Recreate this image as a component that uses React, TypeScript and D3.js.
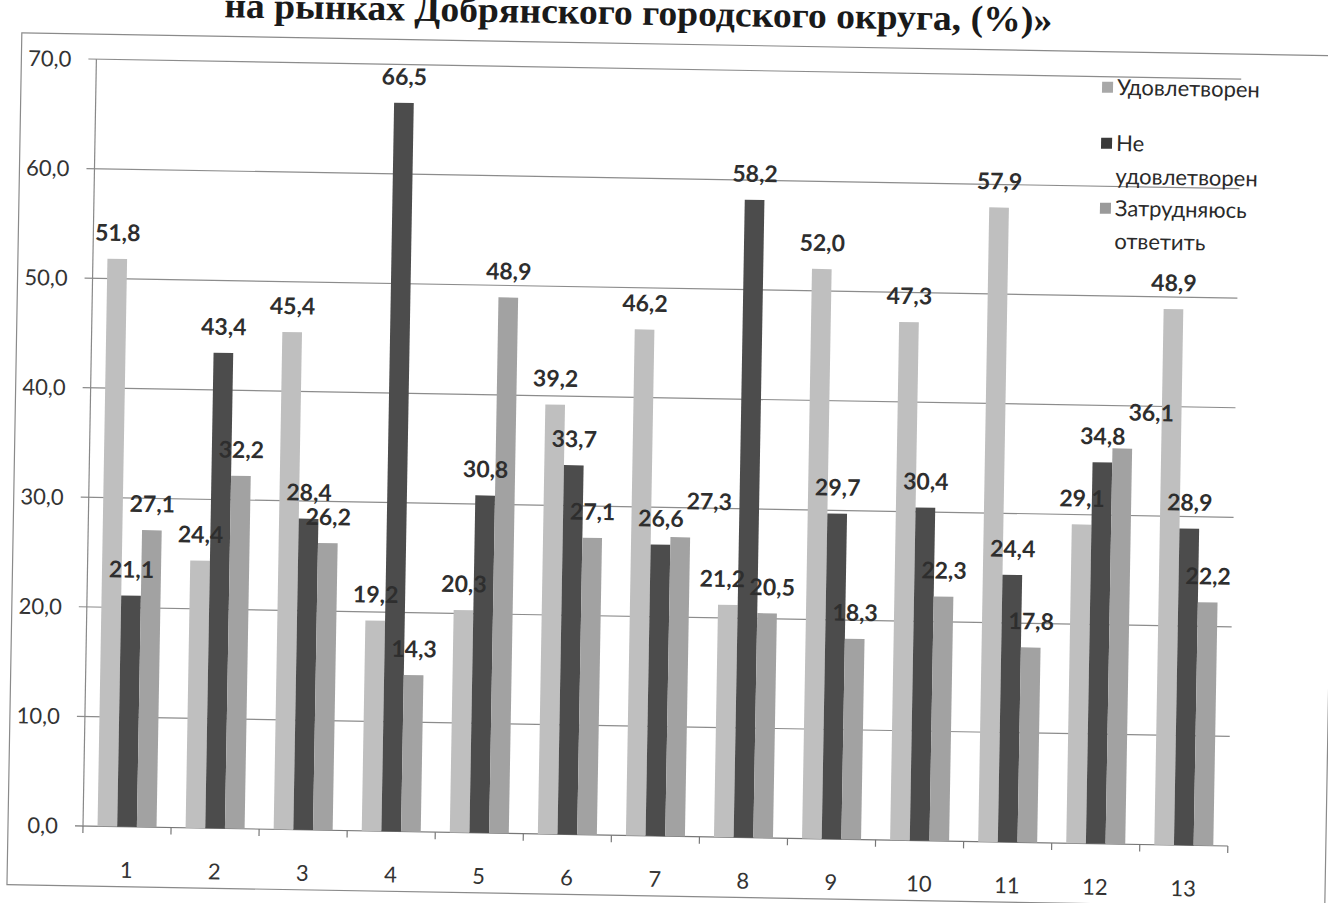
import React from 'react';
import * as d3 from 'd3';

const categories = ['1', '2', '3', '4', '5', '6', '7', '8', '9', '10', '11', '12', '13'];
const satisfied = [51.8, 24.4, 45.4, 19.2, 20.3, 39.2, 46.2, 21.2, 52.0, 47.3, 57.9, 29.1, 48.9];
const notSatisfied = [21.1, 43.4, 28.4, 66.5, 30.8, 33.7, 26.6, 58.2, 29.7, 30.4, 24.4, 34.8, 28.9];
const hardToSay = [27.1, 32.2, 26.2, 14.3, 48.9, 27.1, 27.3, 20.5, 18.3, 22.3, 17.8, 36.1, 22.2];
const seriesNames = ['Удовлетворен', 'Не удовлетворен', 'Затрудняюсь ответить'];
const legendLines = [['Удовлетворен'], ['Не', 'удовлетворен'], ['Затрудняюсь', 'ответить']];
const yTicks = [0, 10, 20, 30, 40, 50, 60, 70];
const titleText = 'на рынках Добрянского городского округа, (%)»';

const barColors = ['#bfbfbf', '#4c4c4c', '#a2a2a2'];
const legendColors = ['#a8a8a8', '#3a3a3a', '#9a9a9a'];

const W = 1328;
const H = 903;
const left = 83;
const right = 1228;
const bottom = 826;
const top = 59;

export default function App() {
  const values = [satisfied, notSatisfied, hardToSay];
  const x = d3.scaleBand<string>().domain(categories).range([left, right]).paddingInner(0.33).paddingOuter(0.165);
  const sub = d3.scaleBand<number>().domain([0, 1, 2]).range([0, x.bandwidth()]).padding(0);
  const y = d3.scaleLinear().domain([0, 70]).range([bottom, top]);
  const fmt = (v: number) => d3.format('.1f')(v).replace('.', ',');
  const step = x.step();
  const boundaries = categories.map((c) => (x(c) as number) - (step - x.bandwidth()) / 2).concat([right]);

  const font = 'Lato, "Open Sans", sans-serif';
  const labelGap = 18;

  return (
    <svg width={W} height={H} style={{ position: 'absolute', left: 0, top: 0, background: '#fff' }}>
      <rect x={0} y={0} width={W} height={H} fill="#fff" />
      <g transform={`rotate(1, ${left}, ${bottom})`}>
        <text x={624} y={15} textAnchor="middle" fontFamily='"Liberation Serif", "Times New Roman", serif' fontWeight="bold" fontSize={36} fill="#1a1a1a" textLength={828} lengthAdjust="spacingAndGlyphs">{titleText}</text>
        <rect x={8} y={34} width={1318} height={852} fill="none" stroke="#8a8a8a" strokeWidth={1.2} />
        {yTicks.map((t) => (
          <g key={t}>
            <line x1={left - 8} x2={right} y1={y(t)} y2={y(t)} stroke={t === 0 ? '#777' : '#8c8c8c'} strokeWidth={1.2} />
            <text x={58} y={y(t) + 8} textAnchor="end" fontFamily={font} fontSize={22} fill="#333">{fmt(t)}</text>
          </g>
        ))}
        <line x1={left} x2={left} y1={top} y2={bottom} stroke="#888" strokeWidth={1.2} />
        {boundaries.map((b, i) => (
          <line key={i} x1={b} x2={b} y1={bottom} y2={bottom + 7} stroke="#777" strokeWidth={1.2} />
        ))}
        {categories.map((c, i) => (
          <g key={c}>
            {values.map((arr, s) => {
              const bx = (x(c) as number) + (sub(s) as number);
              const bw = sub.bandwidth();
              return (
                <rect key={s} x={bx} y={y(arr[i])} width={bw} height={bottom - y(arr[i])} fill={barColors[s]} />
              );
            })}
            <text x={(x(c) as number) + x.bandwidth() / 2} y={877} textAnchor="middle" fontFamily={font} fontSize={22} fill="#333">{c}</text>
          </g>
        ))}
        {categories.map((c, i) => {
          const base = values.map((arr, s) => ({
            cx: (x(c) as number) + (sub(s) as number) + sub.bandwidth() / 2,
            cy: y(arr[i]) - labelGap,
            v: arr[i],
          }));
          // avoid collisions between labels of the same group
          for (let s = 1; s < base.length; s++) {
            const cur = base[s];
            for (let p = 0; p < s; p++) {
              const prev = base[p];
              if (Math.abs(cur.cy - prev.cy) < 22 && Math.abs(cur.cx - prev.cx) < 48) {
                if (p === s - 1) {
                  cur.cx = prev.cx + 48;
                  cur.cy = Math.min(cur.cy, prev.cy) - 10;
                } else {
                  prev.cx -= 6;
                  cur.cx = prev.cx + 50;
                }
              }
            }
          }
          return (
            <g key={'l' + c}>
              {base.map((b, s) => (
                <text key={s} x={b.cx} y={b.cy} textAnchor="middle" fontFamily={font} fontWeight="bold" fontSize={23} fill="#2e2e2e">{fmt(b.v)}</text>
              ))}
            </g>
          );
        })}
        <g fontFamily={font} fontSize={22} fill="#2a2a2a">
          {legendLines.map((lines, s) => {
            const baseY = [77, 133, 198][s];
            return (
              <g key={s}>
                <rect x={1089} y={baseY - 13} width={11} height={11} fill={legendColors[s]} />
                {lines.map((ln, k) => (
                  <text key={k} x={1104} y={baseY + k * 33}>{ln}</text>
                ))}
              </g>
            );
          })}
        </g>
        <desc>{seriesNames.join(', ')}</desc>
      </g>
    </svg>
  );
}
